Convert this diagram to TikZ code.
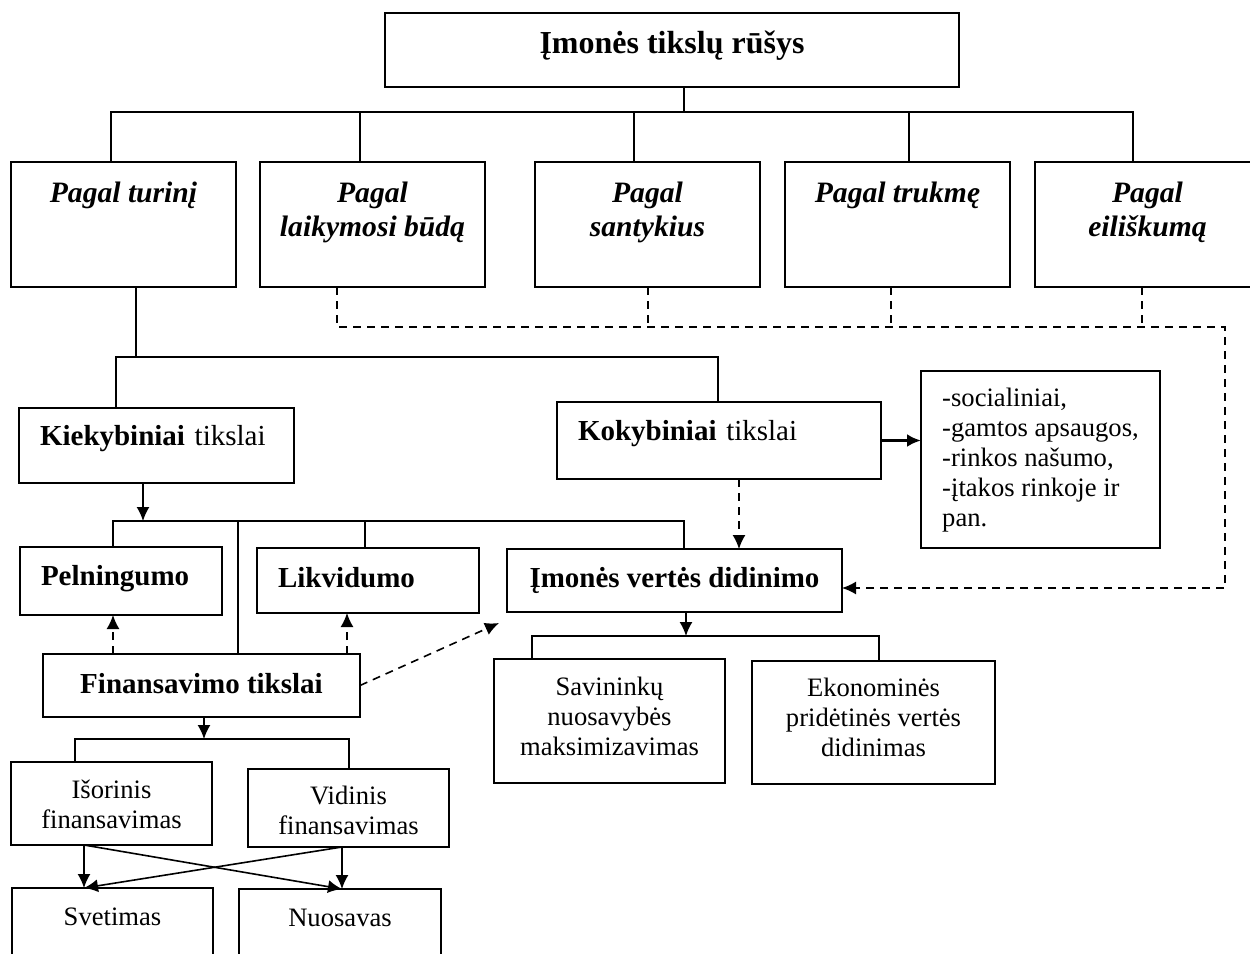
\documentclass[tikz,border=0pt]{standalone}
\usepackage{fontspec}
\setmainfont{Liberation Serif}
\usetikzlibrary{arrows.meta,positioning}

\begin{document}
\begin{tikzpicture}[x=0.5pt, y=-0.5pt, node distance=12pt, >={Latex[length=7pt,width=6.5pt]}]
    \tikzstyle{box} = [rectangle, draw=black, line width=0.8pt, inner sep=0pt, outer sep=0pt]
    \tikzstyle{head} = [box, minimum width=287pt, minimum height=37pt, text height=10pt, text depth=7pt, font=\fontsize{16}{19}\selectfont\bfseries]
    \tikzstyle{kind} = [box, minimum width=112.5pt, minimum height=62.5pt, text height=20pt, text depth=42.5pt, align=center, font=\fontsize{14.8}{17}\selectfont\bfseries\itshape]
    \tikzstyle{kindtwo} = [kind, text height=37pt, text depth=25.5pt]
    \tikzstyle{goal} = [box, inner xsep=10.5pt, align=left, font=\fontsize{14.5}{17}\selectfont]
    \tikzstyle{goalc} = [box, align=center, font=\fontsize{14.5}{17}\selectfont\bfseries]
    \tikzstyle{plain} = [box, align=center, font=\fontsize{13.3}{15}\selectfont]
    \tikzstyle{line} = [line width=0.8pt]
    \tikzstyle{arrow} = [line width=0.8pt, ->]
    \tikzstyle{dashline} = [line width=0.8pt, dash pattern=on 4pt off 3pt]
    \tikzstyle{dasharrow} = [dashline, ->]

    \useasboundingbox (0,0) rectangle (1250,954);
    \clip (0,0) rectangle (1250,954);

    \node (top) [head] at (672,50) {Įmonės tikslų rūšys};
    \node (b1) [kind] at (123.5,224.5) {Pagal turinį};
    \node (b2) [kindtwo, right=12pt of b1] {Pagal\\laikymosi būdą};
    \node (b3) [kindtwo, right=25pt of b2] {Pagal\\santykius};
    \node (b4) [kind, right=12.5pt of b3] {Pagal trukmę};
    \node (b5) [kindtwo, right=12.5pt of b4] {Pagal\\eiliškumą};

    \node (kiek) [goal, text width=116.5pt, minimum height=37.5pt, text height=10pt, text depth=10pt] at (156.5,445.5) {\textbf{Kiekybiniai} tikslai};
    \node (koky) [goal, text width=141pt, minimum height=38.5pt, text height=10pt, text depth=10pt] at (719,440.5) {\textbf{Kokybiniai} tikslai};
    \node (list) [plain, align=left, minimum width=119.5pt, minimum height=88.5pt, text height=77.5pt, text depth=11pt] at (1040.5,459.5) {-socialiniai,\\-gamtos apsaugos,\\-rinkos našumo,\\-įtakos rinkoje ir\\pan.};
    \node (peln) [goal, text width=80pt, minimum height=34pt, text height=10pt, text depth=6pt] at (121,581) {\textbf{Pelningumo}};
    \node (likv) [goal, text width=90pt, minimum height=32.5pt, text height=11pt, text depth=4.5pt] at (368,580.5) {\textbf{Likvidumo}};
    \node (vert) [goalc, minimum width=167.5pt, minimum height=31.5pt, text height=11pt, text depth=4.5pt] at (674.5,580.5) {Įmonės vertės didinimo};
    \node (fin) [goalc, minimum width=158.5pt, minimum height=31.5pt, text height=11.5pt, text depth=4pt] at (201.5,685.5) {Finansavimo tikslai};
    \node (sav) [plain, minimum width=115.5pt, minimum height=62pt, text height=48pt, text depth=14pt] at (609.5,721) {Savininkų\\nuosavybės\\maksimizavimas};
    \node (ekon) [plain, minimum width=121.5pt, minimum height=61.5pt, text height=47.5pt, text depth=14pt] at (873.5,722.5) {Ekonominės\\pridėtinės vertės\\didinimas};
    \node (isor) [plain, minimum width=100.5pt, minimum height=41.5pt, text height=33pt, text depth=8.5pt] at (111.5,803.5) {Išorinis\\finansavimas};
    \node (vid) [plain, minimum width=100.5pt, minimum height=39pt, text height=32.5pt, text depth=6.5pt] at (348.5,808) {Vidinis\\finansavimas};
    \node (svet) [plain, minimum width=100.5pt, minimum height=41.5pt, text height=18.5pt, text depth=23pt] at (112.5,929.5) {Svetimas};
    \node (nuos) [plain, minimum width=101pt, minimum height=41.5pt, text height=18.5pt, text depth=23pt] at (340,930.5) {Nuosavas};

    \coordinate (tj) at (684,112);
    \coordinate (s1) at (111,112);
    \coordinate (s2) at (360,112);
    \coordinate (s3) at (634,112);
    \coordinate (s4) at (909,112);
    \coordinate (s5) at (1133,112);
    \coordinate (d2) at (337,327);
    \coordinate (d3) at (648,327);
    \coordinate (d4) at (891,327);
    \coordinate (d5) at (1142,327);
    \coordinate (dr) at (1225,327);
    \coordinate (de) at (1225,588);
    \coordinate (k1) at (136,357);
    \coordinate (kl) at (116,357);
    \coordinate (kr) at (718,357);
    \coordinate (pa) at (143,521);
    \coordinate (p1) at (113,521);
    \coordinate (p2) at (238,521);
    \coordinate (p3) at (365,521);
    \coordinate (p4) at (684,521);
    \coordinate (f3) at (347,654);
    \coordinate (q) at (739,479);
    \coordinate (vt) at (499,623);
    \coordinate (va) at (686,636);
    \coordinate (v1) at (532,636);
    \coordinate (v2) at (879,636);
    \coordinate (fa) at (204,739);
    \coordinate (g1) at (75,739);
    \coordinate (g2) at (349,739);
    \coordinate (h1) at (84,888);
    \coordinate (h2) at (342,889);

    \draw [line] (top.south -| tj) -- (tj);
    \draw [line] (s1 |- b1.north) -- (s1) -- (s5) -- (s5 |- b5.north);
    \foreach \i in {2,3,4} \draw [line] (s\i) -- (s\i |- b\i.north);

    \draw [dasharrow] (b2.south -| d2) -- (d2) -- (dr) -- (de) -- (vert.east |- de);
    \foreach \i in {3,4,5} \draw [dashline] (b\i.south -| d\i) -- (d\i);

    \draw [line] (b1.south -| k1) -- (k1);
    \draw [line] (kl |- kiek.north) -- (kl) -- (kr) -- (kr |- koky.north);
    \draw [arrow, line width=1.5pt] (koky.east) -- (koky.east -| list.west);
    \draw [dasharrow] (koky.south -| q) -- (vert.north -| q);

    \draw [arrow] (kiek.south -| pa) -- (pa);
    \draw [line] (p1 |- peln.north) -- (p1) -- (p4) -- (p4 |- vert.north);
    \draw [line] (p2) -- (p2 |- fin.north);
    \draw [line] (p3) -- (p3 |- likv.north);

    \draw [dasharrow] (fin.north -| p1) -- (peln.south -| p1);
    \draw [dasharrow] (fin.north -| f3) -- (likv.south -| f3);
    \draw [dasharrow] (fin.east) -- (vt);

    \draw [arrow] (vert.south -| va) -- (va);
    \draw [line] (v1 |- sav.north) -- (v1) -- (v2) -- (v2 |- ekon.north);

    \draw [arrow] (fin.south -| fa) -- (fa);
    \draw [line] (g1 |- isor.north) -- (g1) -- (g2) -- (g2 |- vid.north);

    \draw [arrow] (isor.south -| h1) -- (h1);
    \draw [arrow] (vid.south -| h2) -- (h2);
    \draw [arrow] (isor.south -| h1) -- (h2);
    \draw [arrow] (vid.south -| h2) -- (h1);
\end{tikzpicture}
\end{document}
